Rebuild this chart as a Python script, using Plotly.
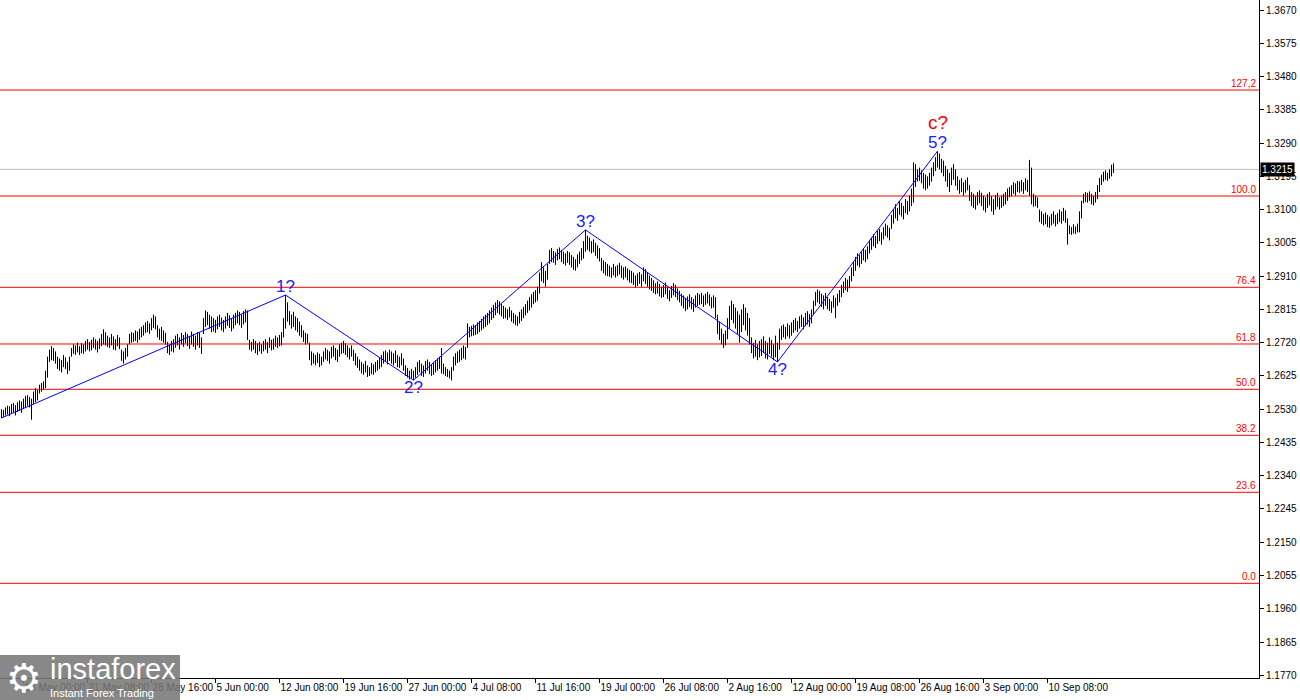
import plotly.graph_objects as go

# ---------------- data (prices in 1e-4 units, i.e. pips) ----------------
bar_high = [
12530,12528,12535,12540,12538,
12545,12548,12542,12550,12555,12552,
12560,12568,12570,12565,
12560,
12580,12590,12585,
12600,12605,12610,
12640,12680,
12700,12710,12705,12695,
12680,12675,12670,12685,12678,12665,12680,
12705,12715,12712,12720,12710,12718,12715,
12725,12730,12722,12728,12735,12730,12725,12732,
12745,12758,12750,
12740,12735,12745,12738,12730,12742,12735,
12700,12695,12705,12715,
12745,12750,12748,12755,12752,12760,12765,
12770,12778,12782,12775,12790,
12800,12795,
12770,12760,12765,12755,12748,
12722,12715,12725,12730,
12740,12745,12735,12748,12742,12750,12745,12738,12752,12745,12740,12750,12748,12735,
12790,12812,12808,12800,12795,
12790,12785,12795,12800,12792,12785,12795,12805,12798,12790,12800,12805,12812,12808,12800,12810,12815,12812,
12728,12722,12730,12725,12718,12722,12715,12725,12730,12722,12735,12728,12732,12740,12735,12742,12750,
12790,12856,
12835,12810,12800,12808,12795,12790,12780,12770,
12755,12748,12745,
12720,12695,12690,12685,12692,12688,12680,
12695,12705,12700,12695,12708,12712,12705,12700,12715,12720,12725,12718,12712,12705,
12712,12700,12690,12680,
12672,12665,12660,12668,12655,12650,12662,12658,12665,12670,12678,
12685,12695,12698,12692,12700,12695,12690,12698,12685,12680,12690,12675,
12655,12648,12640,12645,12640,
12650,12665,12670,12660,12655,12668,12672,12665,12658,12662,12670,12675,12680,
12705,
12660,12650,12645,12640,12650,
12680,12690,12695,12700,12705,12712,12708,
12775,
12765,12768,12772,12770,12778,12782,12788,12795,12800,12805,12812,
12820,12828,12835,12842,12838,12830,12825,
12820,12815,12822,12812,12805,12800,12795,12808,12815,12822,
12830,12840,12850,12858,12865,12870,12880,
12920,12950,12935,12925,12945,
12985,12990,12982,12978,12988,12992,12985,12980,12975,12982,12978,
12970,12965,12958,12972,12980,12990,
13010,13042,
13025,13020,13010,13015,13005,12998,12990,
12962,12955,12950,12945,
12940,12935,12945,12938,12942,12948,12940,12935,12938,12932,12928,
12925,12920,12912,12918,12922,12915,
12935,12930,12920,12912,12905,12898,12890,
12895,12888,12880,12885,12892,12878,12870,12882,12890,12885,12875,12868,
12860,12855,12848,12852,12858,12850,12845,12855,12862,
12858,12862,12855,12860,12865,12858,12850,12855,
12850,12800,12780,
12760,12745,12755,
12790,12825,12840,12830,12820,12810,12800,12815,12830,12820,12805,12790,
12735,12720,12728,12715,12725,
12730,12738,12725,12720,12735,12728,12715,12740,12720,
12760,12768,12772,12765,12775,12770,12778,
12785,12790,12782,12795,12800,12792,12805,12810,12802,12815,
12840,12865,12872,12868,12860,12855,12862,
12850,12845,12838,12855,12848,12860,12870,
12885,12895,12905,12900,12910,
12935,12950,12965,12975,12970,12980,12990,12985,12995,
13010,13020,13030,13025,13040,13045,13035,13050,13060,13055,13048,
13085,13100,13115,13105,13125,13120,13110,13130,
13125,13140,13160,
13235,13230,
13215,13220,13212,13205,13200,13195,13205,
13220,13235,13250,13267,13260,13245,
13240,13225,13215,13205,13220,13230,13215,
13195,13185,13190,13178,13185,13192,13170,
13150,13145,13138,13150,13155,13148,13140,13135,13145,13150,13138,13130,13142,13148,
13135,13140,13145,13150,13160,
13165,13170,13178,13175,13182,13180,13185,13178,13190,13185,
13242,
13220,
13145,13140,13135,
13100,13095,13088,13092,13085,
13080,13088,13095,13085,13090,13100,13095,13105,13098,
13075,
13055,13050,13058,13052,13060,
13095,
13125,
13145,13150,13148,13152,13145,13140,13150,
13170,13190,
13200,13208,13212,13205,13215,13228,13232,
]

bar_low = [
12505,12508,12512,12515,12510,
12518,12520,12512,12522,12525,12520,
12530,12535,12540,12535,
12500,
12545,12550,12555,
12575,12580,12585,
12590,12620,
12665,12670,12668,12660,
12645,12640,12635,12650,12645,12630,12640,
12680,12688,12685,12692,12685,12690,12688,
12695,12700,12695,12698,12705,12700,12692,12702,
12710,12715,12712,
12708,12705,12712,12700,12698,12710,12702,
12668,12660,12672,12680,
12715,12720,12722,12725,12720,12728,12735,
12740,12748,12750,12745,12755,
12762,12758,
12735,12728,12725,12720,12715,
12690,12685,12695,12692,
12705,12712,12700,12715,12708,12718,12710,12702,12715,12708,12700,12712,12705,12688,
12745,12765,12770,12760,12750,
12752,12748,12758,12765,12755,12750,12760,12768,12762,12752,12760,12770,12775,12770,12762,12772,12778,12728,
12700,12695,12700,12690,12685,12695,12688,12695,12700,12690,12705,12698,12700,12708,12705,12710,12712,
12735,12760,
12780,12770,12760,12765,12755,12750,12740,12735,
12722,12715,12718,
12670,12655,12660,12655,12662,12650,12655,
12665,12672,12668,12660,12675,12680,12670,12665,12680,12688,12690,12685,12678,12672,
12680,12668,12655,12648,
12640,12632,12628,12635,12622,12625,12630,12628,12635,12640,12645,
12650,12660,12665,12658,12668,12660,12655,12662,12650,12648,12655,12640,
12625,12620,12615,12618,12613,
12620,12628,12635,12625,12622,12632,12640,12630,12625,12628,12635,12640,12645,
12632,
12630,12625,12622,12618,12612,
12640,12655,12662,12665,12670,12675,12672,
12705,
12735,12738,12740,12742,12745,12750,12755,12760,12765,12770,12775,
12785,12790,12798,12805,12800,12795,12788,
12790,12785,12792,12780,12775,12770,12768,12775,12782,12790,
12798,12805,12812,12820,12830,12835,12840,
12860,12895,12890,12880,12900,
12945,12950,12948,12942,12955,12958,12950,12945,12940,12948,12942,
12935,12928,12925,12935,12945,12955,
12960,12980,
12985,12980,12975,12978,12968,12960,12952,
12925,12918,12912,12910,
12908,12905,12912,12906,12910,12915,12905,12900,12906,12898,12892,
12890,12885,12878,12882,12888,12880,
12895,12888,12880,12872,12868,12862,12858,
12860,12852,12848,12850,12858,12845,12838,12848,12855,12850,12842,12835,
12825,12818,12810,12815,12822,12815,12808,12820,12825,
12828,12830,12822,12828,12832,12825,12818,12820,
12790,12745,12728,
12715,12705,12712,
12730,12760,12785,12775,12760,12745,12720,12750,12770,12755,12740,12715,
12690,12675,12680,12670,12678,
12682,12690,12675,12672,12688,12680,12670,12678,12665,
12700,12728,12735,12730,12738,12732,12740,
12748,12755,12750,12760,12765,12758,12768,12772,12765,12775,
12800,12825,12835,12830,12822,12815,12825,
12815,12810,12805,12820,12790,12825,12835,
12850,12862,12870,12865,12875,
12895,12910,12925,12940,12935,12945,12955,12950,12958,
12975,12985,12995,12990,13002,13010,13000,13015,13025,13020,13012,
13045,13060,13075,13068,13085,13080,13072,13090,
13085,13095,13110,
13120,13165,
13180,13182,13175,13160,13155,13160,13168,
13180,13195,13210,13220,13215,13205,
13195,13180,13165,13150,13170,13185,13168,
13155,13145,13150,13140,13148,13155,13125,
13110,13105,13100,13112,13118,13110,13098,13092,13105,13112,13095,13085,13100,13108,
13100,13105,13110,13115,13125,
13135,13138,13145,13140,13150,13148,13152,13145,13155,13150,
13140,
13115,
13108,13110,13105,
13065,13060,13055,13058,13050,
13048,13055,13060,13052,13058,13065,13060,13068,13062,
13000,
13030,13028,13032,13030,13035,
13035,
13075,
13118,13122,13120,13125,13115,13112,13120,
13130,13150,
13170,13180,13185,13182,13188,13195,13205,
]

if len(bar_high) != len(bar_low):
    raise SystemExit(f"length mismatch {len(bar_high)} vs {len(bar_low)}")

# Elliott wave path: bar index and price of each pivot
wave_bars = [0, 142, 206, 292, 388, 468]
wave_prices = [1.2505, 1.2856, 1.2613, 1.3042, 1.2665, 1.3267]
wave_labels = ["", "1?", "2?", "3?", "4?", "5?"]
wave_is_peak = [False, True, False, True, False, True]

# Fibonacci levels
fib_prices = [1.34415, 1.31388, 1.28781, 1.27162, 1.25868, 1.24554, 1.22926, 1.20327]
fib_labels = ["127,2", "100.0", "76.4", "61.8", "50.0", "38.2", "23.6", "0.0"]

current_price = 1.3215

# axis ticks
y_ticks = [1.1770, 1.1865, 1.1960, 1.2055, 1.2150, 1.2245, 1.2340, 1.2435, 1.2530,
           1.2625, 1.2720, 1.2815, 1.2910, 1.3005, 1.3100, 1.3195, 1.3290, 1.3385,
           1.3480, 1.3575, 1.3670]
x_tick_bars = [11, 43, 75, 107, 139, 171, 203, 235, 267, 299, 331, 363, 395, 427, 459, 491, 523]
x_tick_labels = ["14 May 00:00", "21 May 08:00", "28 May 16:00", "5 Jun 00:00", "12 Jun 08:00",
                 "19 Jun 16:00", "27 Jun 00:00", "4 Jul 08:00", "11 Jul 16:00", "19 Jul 00:00",
                 "26 Jul 08:00", "2 Aug 16:00", "12 Aug 00:00", "19 Aug 08:00", "26 Aug 16:00",
                 "3 Sep 00:00", "10 Sep 08:00"]

FONT = "Liberation Sans, Arial, sans-serif"

# ---------------- figure ----------------
fig = go.Figure()

xs, ys = [], []
for i, (h, l) in enumerate(zip(bar_high, bar_low)):
    xs += [i, i, None]
    ys += [l / 1e4, h / 1e4, None]
fig.add_trace(go.Scatter(x=xs, y=ys, mode="lines", line=dict(color="black", width=1),
                         hoverinfo="skip", showlegend=False))

# fib lines
for p, lab in zip(fib_prices, fib_labels):
    fig.add_shape(type="line", xref="paper", x0=0, x1=1, yref="y", y0=p, y1=p,
                  line=dict(color="#ff0000", width=1), layer="below")
    fig.add_annotation(xref="paper", x=1, xanchor="right", xshift=-1, y=p, yref="y",
                       yanchor="bottom", yshift=-1, text=lab, showarrow=False,
                       font=dict(family=FONT, size=10, color="#ff0000"))

# current price line
fig.add_shape(type="line", xref="paper", x0=0, x1=1, yref="y", y0=current_price, y1=current_price,
              line=dict(color="#c0c0c0", width=1), layer="below")

# wave lines
fig.add_trace(go.Scatter(x=wave_bars, y=wave_prices, mode="lines",
                         line=dict(color="#0000ff", width=1), hoverinfo="skip", showlegend=False))

for b, p, lab, peak in zip(wave_bars, wave_prices, wave_labels, wave_is_peak):
    if not lab:
        continue
    fig.add_annotation(x=b, y=p, text=lab, showarrow=False,
                       yanchor="bottom" if peak else "top",
                       yshift=-3 if peak else 4,
                       font=dict(family=FONT, size=17, color="#2020ff"))

# c? label above wave 5
fig.add_annotation(x=wave_bars[-1], y=wave_prices[-1], text="c?", showarrow=False,
                   yanchor="bottom", yshift=16,
                   font=dict(family=FONT, size=19, color="#ff0000"))

# current price tag
fig.add_annotation(xref="paper", x=1, xanchor="left", xshift=1, y=current_price, yref="y",
                   text="1.3215", showarrow=False, bgcolor="black", borderpad=1,
                   font=dict(family=FONT, size=10, color="white"))

# watermark logo
fig.add_shape(type="rect", xref="paper", yref="paper", x0=0, x1=0.143, y0=-0.035, y1=0.034,
              fillcolor="rgba(120,120,120,0.88)", line=dict(width=0), layer="above")
fig.add_annotation(xref="paper", yref="paper", x=0.003, y=0.0, xanchor="left", yanchor="middle",
                   text="⚙", showarrow=False, font=dict(family="DejaVu Sans", size=40, color="white"))
fig.add_annotation(xref="paper", yref="paper", x=0.038, y=0.013, xanchor="left", yanchor="middle",
                   text="instaforex", showarrow=False, font=dict(family=FONT, size=29, color="white"))
fig.add_annotation(xref="paper", yref="paper", x=0.038, y=-0.022, xanchor="left", yanchor="middle",
                   text="Instant Forex Trading", showarrow=False,
                   font=dict(family=FONT, size=11, color="white"))

fig.update_layout(
    width=1300, height=700,
    margin=dict(l=0, r=41, t=0, b=22),
    paper_bgcolor="white", plot_bgcolor="white",
    showlegend=False,
    xaxis=dict(range=[-0.75, 628.75], showgrid=False, zeroline=False, automargin=False,
               showline=True, linecolor="black", linewidth=1,
               ticks="outside", ticklen=4, tickcolor="black", tickangle=0,
               tickvals=x_tick_bars, ticktext=x_tick_labels,
               ticklabelposition="outside right",
               tickfont=dict(family=FONT, size=10, color="black")),
    yaxis=dict(range=[1.17623, 1.36986], side="right", showgrid=False, zeroline=False,
               automargin=False,
               showline=True, linecolor="black", linewidth=1,
               ticks="outside", ticklen=4, tickcolor="black",
               tickvals=y_ticks, ticktext=[f"{v:.4f}" for v in y_ticks],
               tickfont=dict(family=FONT, size=10, color="black")),
)

fig.write_html("out.html", config={"displayModeBar": False},
               post_script="document.body.style.margin='0';document.body.style.padding='0';")
